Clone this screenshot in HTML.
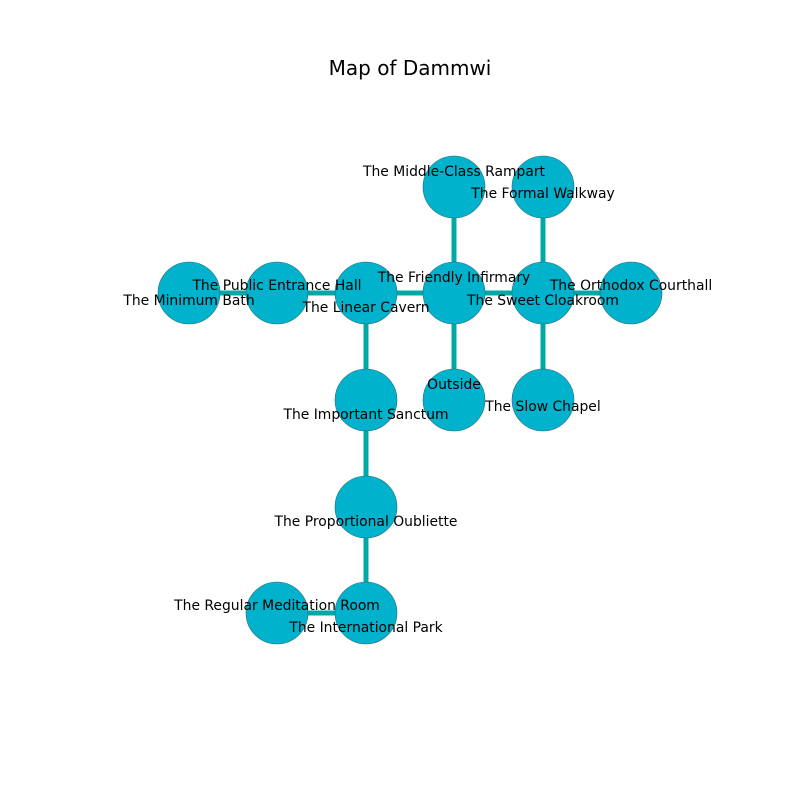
<!DOCTYPE html>
<html><head><meta charset="utf-8"><style>body{margin:0;background:#fff}</style></head><body>
<svg width="800" height="800" xmlns="http://www.w3.org/2000/svg" font-family="DejaVu Sans, sans-serif">
<rect width="800" height="800" fill="#fff"/>
<text x="410" y="68" font-size="20" text-anchor="middle" dominant-baseline="central">Map of Dammwi</text>
<g stroke="#00a8a8" stroke-width="5">
<line x1="189" y1="293" x2="631" y2="293"/>
<line x1="454" y1="187" x2="454" y2="400"/>
<line x1="543" y1="187" x2="543" y2="400"/>
<line x1="366" y1="293" x2="366" y2="613"/>
<line x1="277" y1="613" x2="366" y2="613"/>
</g>
<g fill="#00b2cc" stroke="#2a6a78" stroke-width="0.6">
<circle cx="189" cy="293" r="31"/><circle cx="277" cy="293" r="31"/><circle cx="366" cy="293" r="31"/>
<circle cx="454" cy="293" r="31"/><circle cx="543" cy="293" r="31"/><circle cx="631" cy="293" r="31"/>
<circle cx="454" cy="187" r="31"/><circle cx="543" cy="187" r="31"/>
<circle cx="454" cy="400" r="31"/><circle cx="543" cy="400" r="31"/><circle cx="366" cy="400" r="31"/>
<circle cx="366" cy="507" r="31"/><circle cx="366" cy="613" r="31"/><circle cx="277" cy="613" r="31"/>
</g>
<g font-size="13.9" text-anchor="middle" dominant-baseline="central" fill="#000">
<text x="189" y="301">The Minimum Bath</text>
<text x="277" y="286">The Public Entrance Hall</text>
<text x="366" y="308">The Linear Cavern</text>
<text x="454" y="278">The Friendly Infirmary</text>
<text x="543" y="301">The Sweet Cloakroom</text>
<text x="631" y="286">The Orthodox Courthall</text>
<text x="454" y="172">The Middle-Class Rampart</text>
<text x="543" y="194">The Formal Walkway</text>
<text x="454" y="385">Outside</text>
<text x="543" y="407">The Slow Chapel</text>
<text x="366" y="415">The Important Sanctum</text>
<text x="366" y="522">The Proportional Oubliette</text>
<text x="277" y="606">The Regular Meditation Room</text>
<text x="366" y="628">The International Park</text>
</g>
</svg>
</body></html>
